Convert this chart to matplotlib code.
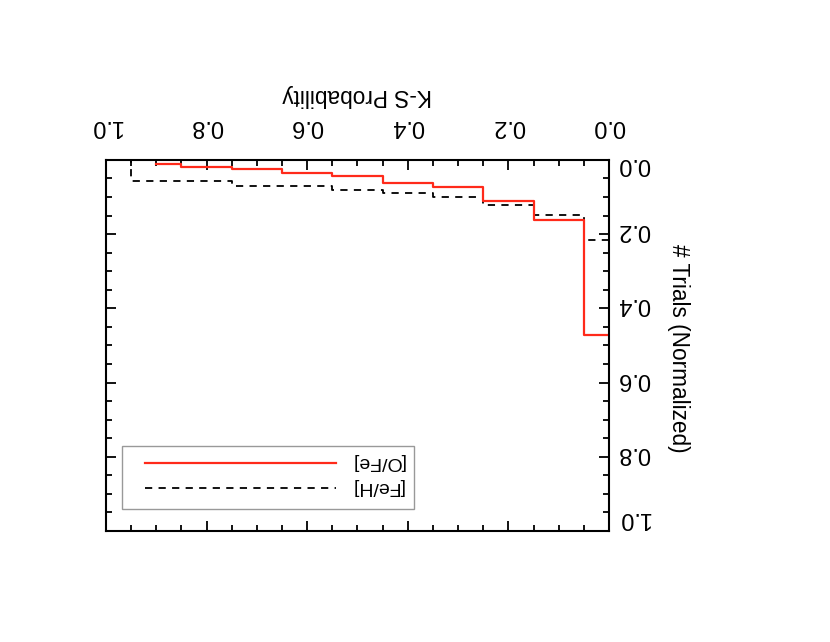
import matplotlib
matplotlib.use('Agg')
import matplotlib.pyplot as plt
from matplotlib.ticker import MultipleLocator
from matplotlib.transforms import ScaledTranslation
from matplotlib.legend_handler import HandlerLine2D

plt.rcParams['font.family'] = ['Liberation Sans', 'DejaVu Sans']

# -----------------------------------------------------------------------------
ks_edges_feh = [0.0, 0.05, 0.15, 0.25, 0.35, 0.45, 0.55, 0.65, 0.75, 0.85, 0.95, 1.0]
feh_trials = [0.215, 0.149, 0.122, 0.099, 0.090, 0.081, 0.069, 0.069, 0.057, 0.057, 0.0]

ks_edges_ofe = [0.0, 0.05, 0.15, 0.25, 0.35, 0.45, 0.55, 0.65, 0.75, 0.85, 0.90]
ofe_trials = [0.472, 0.163, 0.112, 0.073, 0.063, 0.043, 0.035, 0.025, 0.020, 0.012]

tick_vals = [0.0, 0.2, 0.4, 0.6, 0.8, 1.0]
tick_labels = ['0.0', '0.2', '0.4', '0.6', '0.8', '1.0']

TICK_FONT = 17
LABEL_FONT = 16.3
LEGEND_FONT = 14

fig = plt.figure(figsize=(8.3, 6.42), dpi=100)
ax = fig.add_axes([0.1277, 0.1729, 0.606, 0.578])

# whole figure is rotated by 180 degrees: reversed axes, labels on top/right
# (last value repeated so the final step is drawn with where='post')
h_feh, = ax.step(ks_edges_feh, feh_trials + feh_trials[-1:], where='post', color='black',
                 linewidth=1.3, linestyle=(0, (4, 3.5)), label='[Fe/H]')
h_ofe, = ax.step(ks_edges_ofe, ofe_trials + ofe_trials[-1:], where='post', color='#ff2a1a',
                 linewidth=1.6, label='[O/Fe]')

ax.set_xlim(1.0, 0.0)
ax.set_ylim(1.0, 0.0)

ax.set_xticks(tick_vals)
ax.set_xticklabels(tick_labels)
ax.set_yticks(tick_vals)
ax.set_yticklabels(tick_labels)
ax.xaxis.set_minor_locator(MultipleLocator(0.05))
ax.yaxis.set_minor_locator(MultipleLocator(0.05))

ax.tick_params(which='both', direction='in', top=True, bottom=True, left=True, right=True,
               labeltop=True, labelbottom=False, labelright=True, labelleft=False,
               width=1.3, labelrotation=180)
ax.tick_params(which='major', length=7)
ax.tick_params(which='minor', length=4.5)
ax.tick_params(axis='x', pad=16.5, labelsize=TICK_FONT)
ax.tick_params(axis='y', pad=6, labelsize=TICK_FONT)

for spine in ax.spines.values():
    spine.set_linewidth(1.5)

# y tick labels: centred on the ticks, end labels pushed inside the axis range
# shifts in pixels (positive = down on screen)
ylabel_shift = [4.5, -4, -4, -4, -4, -12.5]
yticks = ax.yaxis.get_major_ticks()
for tick, dy in zip(yticks, ylabel_shift):
    tick.label2.set_verticalalignment('center')
    tick.label2.set_transform(tick.label2.get_transform()
                              + ScaledTranslation(0, -dy / 100, fig.dpi_scale_trans))

ax.set_xlabel('K-S Probability', fontsize=LABEL_FONT, rotation=180)
ax.xaxis.set_label_position('top')
ax.xaxis.set_label_coords(0.5, 1.1734)
ax.xaxis.label.set_verticalalignment('center')

ax.set_ylabel('# Trials (Normalized)', fontsize=LABEL_FONT, rotation=270)
ax.yaxis.set_label_position('right')
ax.yaxis.set_label_coords(1.139, 0.493)
ax.yaxis.label.set_verticalalignment('center')
ax.yaxis.label.set_horizontalalignment('center')

leg = ax.legend(handles=[h_ofe, h_feh], loc='lower left', bbox_to_anchor=(0.031, 0.060),
                fontsize=LEGEND_FONT, frameon=True, fancybox=False, framealpha=1,
                edgecolor='#999999', handlelength=11.24, handletextpad=0.02,
                borderpad=0.5, labelspacing=0.4, borderaxespad=0, numpoints=2,
                handler_map={h_ofe: HandlerLine2D(marker_pad=0.72),
                             h_feh: HandlerLine2D(marker_pad=0.72)})
leg.get_frame().set_linewidth(1.0)
for txt in leg.get_texts():
    txt.set_rotation(180)
    txt.set_verticalalignment('bottom')  # keeps flipped glyphs level with the line

plt.savefig('out.png', dpi=100)
